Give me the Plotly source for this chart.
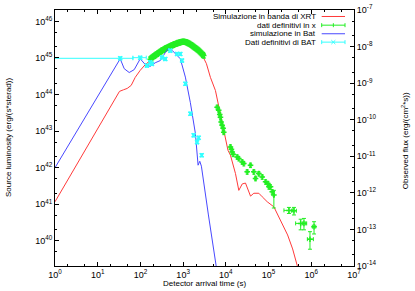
import plotly.graph_objects as go

# ---------------- data ----------------
# Simulazione in banda di XRT (red curve)
xrt_sim_t = [1, 32.3, 40.1, 49, 60.8, 75.5, 98.9, 130, 170, 292, 501, 1011, 1735, 2675,
             3507, 4350, 5700, 6810, 8320, 9790, 11200, 12800, 14300, 16800, 20100,
             24200, 28800, 37800, 45200, 59200, 71100, 93100, 133000, 191000, 279000,
             366000, 480000, 535000]
xrt_sim_L = [1.17e41, 1.22e44, 1.35e44, 1.47e44, 1.78e44, 2.95e44, 4.6e44, 6.6e44, 8.5e44,
             1.32e45, 1.9e45, 2.63e45, 2.04e45, 1.32e45, 7.0e44, 2.95e44, 1.29e44, 4.5e43,
             1.62e43, 6.3e42, 3.0e42, 2.2e42, 1.32e42, 6.9e41, 2.4e41, 3.6e41, 3.8e41,
             1.67e41, 2.0e41, 2.0e41, 1.6e41, 1.17e41, 8.5e40, 3.7e40, 1.45e40, 6.0e39,
             2.1e39, 1.2e39]

# dati definitivi in x (green) - dense early band
xrt_band_t = [170, 180, 189, 200, 211, 222, 235, 248, 262, 277, 292, 308, 325, 343, 362,
              382, 403, 426, 450, 475, 501, 530, 558, 590, 621, 656, 692, 730, 771, 813,
              859, 906, 957, 1010, 1067, 1127, 1189, 1255, 1324, 1398, 1476, 1558, 1644,
              1735, 1832, 1933, 2041, 2154, 2273, 2400, 2533, 2675, 2823, 2930, 3030]
xrt_band_L = [9.3e44, 1.0e45, 1.05e45, 1.1e45, 1.15e45, 1.2e45, 1.26e45, 1.3e45, 1.38e45,
              1.42e45, 1.5e45, 1.55e45, 1.65e45, 1.68e45, 1.76e45, 1.8e45, 1.88e45, 1.92e45,
              2.0e45, 2.05e45, 2.12e45, 2.18e45, 2.25e45, 2.3e45, 2.4e45, 2.42e45, 2.48e45,
              2.55e45, 2.62e45, 2.65e45, 2.72e45, 2.75e45, 2.8e45, 2.82e45, 2.83e45, 2.78e45,
              2.72e45, 2.62e45, 2.55e45, 2.46e45, 2.38e45, 2.28e45, 2.18e45, 2.08e45, 1.98e45,
              1.88e45, 1.8e45, 1.72e45, 1.64e45, 1.55e45, 1.45e45, 1.37e45, 1.28e45, 1.22e45,
              1.16e45]

# dati definitivi in x (green) - decay phase
xrt_mid_t = [6250, 6810, 7190, 7470, 7760, 8190, 8640, 8930, 12800, 13500, 14100, 14800,
             18400, 20100, 24100, 26300, 31600, 37800, 45200, 49500, 59200, 71100, 85100,
             96400, 102000, 111000, 122000]
xrt_mid_L = [4.5e43, 3.7e43, 2.87e43, 2.38e43, 1.77e43, 1.44e43, 1.19e43, 9.3e42, 3.7e42,
             3.2e42, 2.7e42, 2.33e42, 1.97e42, 1.78e42, 1.44e42, 1.3e42, 7.7e41, 1.17e42,
             7.7e41, 5.1e41, 6.9e41, 5.6e41, 4.1e41, 3.7e41, 3.0e41, 3.0e41, 2.2e41]

# dati definitivi in x (green) - late points with explicit error bars
xrt_late_t = [133000, 300000, 393000, 564000, 674000, 1160000, 932000]
xrt_late_L = [1.78e41, 6.8e40, 6.65e40, 3.0e40, 3.0e40, 2.44e40, 1.11e40]
xrt_late_tlo = [128000, 229000, 341000, 430000, 618000, 1060000, 810000]
xrt_late_thi = [138000, 360000, 447000, 739000, 780000, 1270000, 1120000]
xrt_late_Llo = [7.9e40, 5.6e40, 5.1e40, 2.0e40, 2.0e40, 1.54e40, 5.9e39]
xrt_late_Lhi = [2.4e41, 8.2e40, 8.2e40, 3.9e40, 4.1e40, 3.33e40, 1.78e40]

# simulazione in Bat (blue curve)
bat_sim_t = [1, 33.6, 41.7, 54.6, 71.5, 98.9, 130, 170, 222, 292, 382, 450, 558, 692, 859,
             1127, 1476, 1933, 2238, 2450, 2675, 3906, 6700]
bat_sim_L = [1.0e42, 9.5e44, 5.1e44, 4.0e44, 4.8e44, 9.5e44, 6.6e44, 5.9e44, 7.4e44, 8.5e44,
             1.4e45, 1.8e45, 1.6e45, 1.23e45, 9.5e44, 3.0e44, 6.0e43, 8.7e42, 1.17e42,
             1.5e42, 1.1e42, 5.1e40, 8e38]

# Dati definitivi di BAT (cyan)
bat_t = [33.6, 98.9, 142, 170, 186, 320, 382, 501, 719, 859, 942, 1127, 1476, 1764, 2310,
         2120, 2720]
bat_L = [9.8e44, 1.02e45, 6.2e44, 7.6e44, 6.9e44, 1.04e45, 9.4e44, 1.59e45, 1.29e45,
         1.29e45, 8.5e44, 1.97e44, 3.0e43, 7.7e42, 6.6e42, 5.0e42, 2.2e42]
bat_tlo = [0.5, 66.7, 132, 160, 176, 300, 360, 470, 680, 820, 900, 1080, 1420, 1700, 2230,
           2050, 2630]
bat_thi = [66.7, 137, 152, 180, 196, 340, 405, 530, 760, 900, 985, 1180, 1540, 1830, 2390,
           2190, 2810]

# tick labels
x_tickvals = [1, 10, 100, 1e3, 1e4, 1e5, 1e6, 1e7]
x_ticktext = ["10<sup>0</sup>", "10<sup>1</sup>", "10<sup>2</sup>", "10<sup>3</sup>",
              "10<sup>4</sup>", "10<sup>5</sup>", "10<sup>6</sup>", "10<sup>7</sup>"]
y_tickvals = [1e40, 1e41, 1e42, 1e43, 1e44, 1e45, 1e46]
y_ticktext = ["10<sup>40</sup>", "10<sup>41</sup>", "10<sup>42</sup>", "10<sup>43</sup>",
              "10<sup>44</sup>", "10<sup>45</sup>", "10<sup>46</sup>"]
y2_tickvals = [1e-14, 1e-13, 1e-12, 1e-11, 1e-10, 1e-9, 1e-8, 1e-7]
y2_ticktext = ["10<sup>-14</sup>", "10<sup>-13</sup>", "10<sup>-12</sup>", "10<sup>-11</sup>",
               "10<sup>-10</sup>", "10<sup>-9</sup>", "10<sup>-8</sup>", "10<sup>-7</sup>"]

legend_labels = ["Simulazione in banda di XRT", "dati definitivi in x",
                 "simulazione in Bat", "Dati definitivi di BAT"]

RED = "#ff3a3a"
GREEN = "#22ee22"
BLUE = "#4848ff"
CYAN = "#33ffff"
FONT = "Liberation Sans, Arial, sans-serif"

fig = go.Figure()

fig.add_trace(go.Scatter(x=xrt_sim_t, y=xrt_sim_L, mode="lines",
                         line=dict(color=RED, width=1), showlegend=False))

fig.add_trace(go.Scatter(x=xrt_band_t, y=xrt_band_L, mode="markers",
                         marker=dict(symbol="cross-thin", size=4, line=dict(color=GREEN, width=1.5)),
                         error_y=dict(type="percent", value=14, color=GREEN, thickness=1.5, width=2),
                         error_x=dict(type="percent", value=4, color=GREEN, thickness=1, width=1.5),
                         showlegend=False))

fig.add_trace(go.Scatter(x=xrt_mid_t, y=xrt_mid_L, mode="markers",
                         marker=dict(symbol="cross-thin", size=4, line=dict(color=GREEN, width=1.5)),
                         error_y=dict(type="percent", value=14, color=GREEN, thickness=1, width=1.5),
                         error_x=dict(type="percent", value=6, color=GREEN, thickness=1, width=1.5),
                         showlegend=False))

fig.add_trace(go.Scatter(x=xrt_late_t, y=xrt_late_L, mode="markers",
                         marker=dict(symbol="cross-thin", size=4, line=dict(color=GREEN, width=1.5)),
                         error_y=dict(type="data", symmetric=False,
                                      array=[h - v for h, v in zip(xrt_late_Lhi, xrt_late_L)],
                                      arrayminus=[v - l for l, v in zip(xrt_late_Llo, xrt_late_L)],
                                      color=GREEN, thickness=1, width=2),
                         error_x=dict(type="data", symmetric=False,
                                      array=[h - v for h, v in zip(xrt_late_thi, xrt_late_t)],
                                      arrayminus=[v - l for l, v in zip(xrt_late_tlo, xrt_late_t)],
                                      color=GREEN, thickness=1, width=2),
                         showlegend=False))

fig.add_trace(go.Scatter(x=bat_sim_t, y=bat_sim_L, mode="lines",
                         line=dict(color=BLUE, width=1), showlegend=False))

fig.add_trace(go.Scatter(x=bat_t, y=bat_L, mode="markers",
                         marker=dict(symbol="x-thin", size=4, line=dict(color=CYAN, width=1.5)),
                         error_y=dict(type="percent", value=10, color=CYAN, thickness=1, width=2),
                         error_x=dict(type="data", symmetric=False,
                                      array=[h - v for h, v in zip(bat_thi, bat_t)],
                                      arrayminus=[v - l for l, v in zip(bat_tlo, bat_t)],
                                      color=CYAN, thickness=1, width=2),
                         showlegend=False))

# empty trace so that the right-hand flux axis is drawn
fig.add_trace(go.Scatter(x=[], y=[], yaxis="y2", showlegend=False, hoverinfo="skip"))

# --------- layout ----------
W, H = 415, 291
L_M, R_M, T_M, B_M = 55, 61, 10, 25

tickfont = dict(family=FONT, size=9, color="black")
common = dict(type="log", showgrid=False, zeroline=False, automargin=False,
              ticks="inside", ticklen=4, tickcolor="black", tickwidth=1,
              showline=True, linecolor="black", linewidth=1, tickfont=tickfont,
              minor=dict(ticks="inside", ticklen=2, tickcolor="black", showgrid=False))

fig.update_layout(
    width=W, height=H, autosize=False,
    margin=dict(l=L_M, r=R_M, t=T_M, b=B_M, pad=0),
    paper_bgcolor="white", plot_bgcolor="white",
    font=dict(family=FONT, size=8, color="black"),
    xaxis=dict(range=[-0.0001, 7.0001], mirror="ticks", tickvals=x_tickvals,
               ticktext=x_ticktext, **common),
    yaxis=dict(range=[39.312, 46.312], mirror=False, tickvals=y_tickvals,
               ticktext=y_ticktext, **common),
    yaxis2=dict(range=[-14.0001, -6.9999], overlaying="y", side="right", anchor="x",
                tickvals=y2_tickvals, ticktext=y2_ticktext, **common),
)


def px2x(px):
    return (px - 55) / 299.0


def py2y(py):
    return (266 - py) / 256.5


annotations = [
    dict(text="Detector arrival time (s)", x=0.5, y=py2y(284), xref="paper", yref="paper",
         xanchor="center", yanchor="middle", showarrow=False, font=dict(size=8)),
    dict(text="Source luminosity (erg/(s*sterad))", x=px2x(8), y=0.5, xref="paper", yref="paper",
         xanchor="center", yanchor="middle", textangle=-90, showarrow=False, font=dict(size=8)),
    dict(text="Observed flux (erg/(cm<sup>2</sup>*s))", x=px2x(405), y=py2y(141), xref="paper",
         yref="paper", xanchor="center", yanchor="middle", textangle=-90, showarrow=False,
         font=dict(size=8)),
]

rows_py = [16, 24.7, 33.3, 41.7]
colors = [RED, GREEN, BLUE, CYAN]
shapes = []
sx0, sx1 = px2x(321.7), px2x(345)
sxc = (sx0 + sx1) / 2
cap = 2 / 256.5
capx = 2 / 299.0
for lab, py, col, kind in zip(legend_labels, rows_py, colors, ["line", "err+", "line", "errx"]):
    y = py2y(py)
    annotations.append(dict(text=lab, x=px2x(317.5), y=y, xref="paper", yref="paper",
                            xanchor="right", yanchor="middle", showarrow=False,
                            font=dict(size=8)))
    shapes.append(dict(type="line", xref="paper", yref="paper", x0=sx0, x1=sx1, y0=y, y1=y,
                       line=dict(color=col, width=1)))
    if kind.startswith("err"):
        for xx in (sx0, sx1):
            shapes.append(dict(type="line", xref="paper", yref="paper", x0=xx, x1=xx,
                               y0=y - cap, y1=y + cap, line=dict(color=col, width=1)))
        if kind == "err+":
            shapes.append(dict(type="line", xref="paper", yref="paper", x0=sxc, x1=sxc,
                               y0=y - cap, y1=y + cap, line=dict(color=col, width=1)))
        else:
            shapes.append(dict(type="line", xref="paper", yref="paper", x0=sxc - capx, x1=sxc + capx,
                               y0=y - cap, y1=y + cap, line=dict(color=col, width=1)))
            shapes.append(dict(type="line", xref="paper", yref="paper", x0=sxc - capx, x1=sxc + capx,
                               y0=y + cap, y1=y - cap, line=dict(color=col, width=1)))

fig.update_layout(annotations=annotations, shapes=shapes)

fig.write_html("out.html", config={"displayModeBar": False},
               post_script="document.body.style.margin='0';document.body.style.padding='0';")
